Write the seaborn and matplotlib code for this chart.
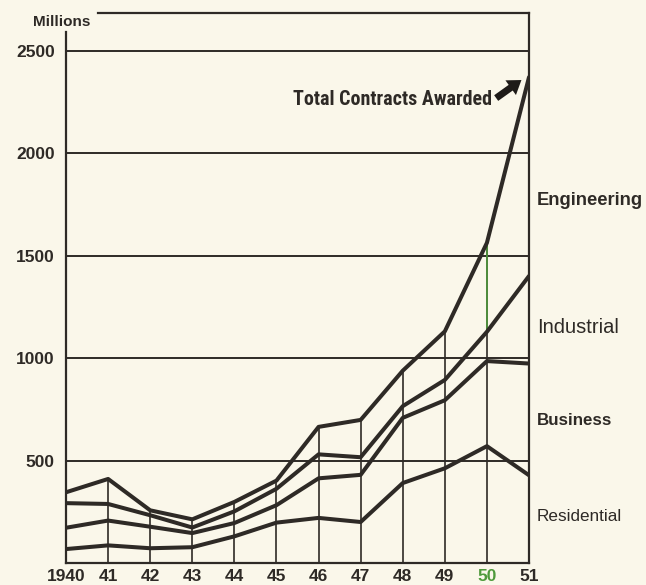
import numpy as np
import pandas as pd
import matplotlib
matplotlib.use("Agg")
import matplotlib.pyplot as plt
from matplotlib import font_manager
import seaborn as sns

# Construction contracts awarded, millions of dollars, by sector
years = [1940, 1941, 1942, 1943, 1944, 1945, 1946, 1947, 1948, 1949, 1950, 1951]
year_labels = ["1940", "41", "42", "43", "44", "45", "46", "47", "48", "49", "50", "51"]
residential = [68, 86, 72, 77, 130, 197, 220, 200, 390, 462, 570, 428]
business = [104, 121, 105, 69, 65, 85, 193, 230, 318, 332, 415, 545]
industrial = [120, 81, 56, 27, 57, 80, 117, 86, 57, 99, 143, 427]
engineering = [53, 122, 24, 40, 46, 40, 134, 182, 173, 237, 434, 970]
sectors = ["Residential", "Business", "Industrial", "Engineering"]
y_ticks = [500, 1000, 1500, 2000, 2500]

PAPER = "#faf7ea"
INK = "#2e2a26"
GREEN = "#4f9a3c"

sns.set_style("white", {"axes.facecolor": PAPER, "figure.facecolor": PAPER})
plt.rcParams["font.family"] = ["Liberation Sans", "DejaVu Sans"]

# a narrow face for the headline, if one is installed
installed = {f.name for f in font_manager.fontManager.ttflist}
narrow = next((n for n in ["Liberation Sans Narrow", "Roboto Condensed", "DejaVu Sans Condensed"]
               if n in installed), "Liberation Sans")

# stacked levels: each line is the running total up to that sector
levels = np.cumsum(np.array([residential, business, industrial, engineering]), axis=0)
df = pd.DataFrame({
    "year": np.tile(years, len(sectors)),
    "value": levels.ravel(),
    "sector": np.repeat(sectors, len(years)),
})
total = levels[-1]

fig = plt.figure(figsize=(6.46, 5.85), dpi=100)
ax = fig.add_axes([0.1022, 0.0376, 0.7167, 0.9402])
ax.set_facecolor(PAPER)

# horizontal rules
for v in y_ticks:
    ax.axhline(v, color=INK, lw=1.4, zorder=1)

# year verticals rising to the total line
ax.vlines(years[1:-1], 0, total[1:-1], color=INK, lw=1.2, zorder=1)
i50 = years.index(1950)
ax.vlines(1950, levels[2][i50], total[i50], color=GREEN, lw=1.2, zorder=1.5)

sns.lineplot(data=df, x="year", y="value", hue="sector", hue_order=sectors,
             palette=[INK] * 4, linewidth=2.9, legend=False, ax=ax, zorder=3)

ax.set_xlim(1940, 1951)
ax.set_ylim(0, 2683)
ax.set_xlabel("")
ax.set_ylabel("")

for side in ["left", "right", "top", "bottom"]:
    ax.spines[side].set_visible(True)
    ax.spines[side].set_color(INK)
    ax.spines[side].set_linewidth(1.6)
ax.spines["left"].set_bounds(0, 2590)
ax.spines["top"].set_bounds(1940.76, 1951)

ax.set_xticks(years)
ax.set_xticklabels(year_labels)
ax.set_yticks(y_ticks)
ax.set_yticklabels([str(v) for v in y_ticks])
ax.tick_params(axis="both", length=0, labelsize=12.5, colors=INK)
ax.tick_params(axis="y", pad=8)
ax.tick_params(axis="x", pad=4)
for lab in ax.get_xticklabels() + ax.get_yticklabels():
    lab.set_fontweight("bold")
ax.get_xticklabels()[i50].set_color(GREEN)

fig.text(33 / 646, 1 - 21.5 / 585, "Millions", fontsize=11, fontweight="bold",
         color=INK, ha="left", va="center")

headline = ax.text(1945.39, 2262, "Total Contracts Awarded", fontsize=16, fontweight="bold",
                   family=[narrow, "DejaVu Sans"], color=INK, ha="left", va="center")
# fit the headline to the space between the axis rule and the arrow
renderer = fig.canvas.get_renderer()
w = headline.get_window_extent(renderer).width
headline.set_fontsize(min(16, 16 * 199 / w))

ax.annotate("", xy=(1950.82, 2356), xytext=(1950.22, 2268),
            arrowprops=dict(arrowstyle="simple,head_length=0.95,head_width=1.3,tail_width=0.5",
                            mutation_scale=10, color="#1e1b18", lw=0,
                            shrinkA=0, shrinkB=0))

label_x = 1951.19
ax.text(label_x, 1770, "Engineering", fontsize=13.2, fontweight="bold", color=INK,
        ha="left", va="center", clip_on=False)
ax.text(label_x, 1150, "Industrial", fontsize=14.5, color=INK,
        ha="left", va="center", clip_on=False)
ax.text(label_x, 697, "Business", fontsize=12.2, fontweight="bold", color=INK,
        ha="left", va="center", clip_on=False)
ax.text(label_x, 225, "Residential", fontsize=12.3, color=INK,
        ha="left", va="center", clip_on=False)

fig.savefig("out.png", dpi=100, facecolor=PAPER)
